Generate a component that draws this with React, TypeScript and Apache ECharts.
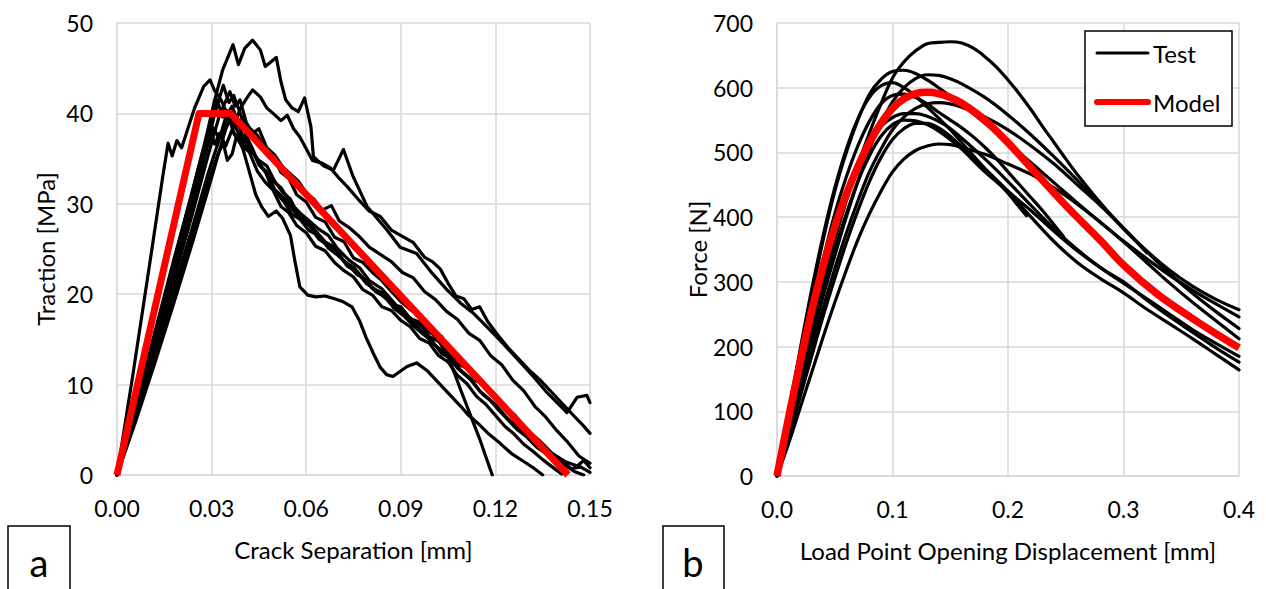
import React, { useEffect, useRef } from "react";
import * as echarts from "echarts";

// ---------- Panel a: traction vs crack separation ----------
const tractionTicks = [0, 10, 20, 30, 40, 50];
const separationTicks = [0, 0.03, 0.06, 0.09, 0.12, 0.15];

const testA = [[0,0],[0.006,7.5],[0.012,15.5],[0.018,23.5],[0.024,31.5],[0.028,37],[0.031,41.5],[0.0335,44.8],[0.0355,46.5],[0.0368,47.6],[0.0385,45.4],[0.0405,47.2],[0.043,48.1],[0.0455,47],[0.047,45.2],[0.0485,45.6],[0.0505,46.2],[0.052,43.5],[0.0535,41.5],[0.0555,40.6],[0.0575,40.2],[0.0595,41.7],[0.0615,38.5],[0.0623,35.2],[0.0655,34.2],[0.0686,33.7],[0.0718,36],[0.0749,33],[0.0793,29.7],[0.0856,27.1],[0.0898,25.2],[0.095,24.5],[0.1,22.3],[0.1046,20.5],[0.109,19],[0.113,17.9],[0.117,16.5],[0.1215,14.9],[0.127,12.8],[0.132,10.9],[0.1364,9.1],[0.1427,6.9],[0.1459,8.6],[0.149,8.8],[0.15,8.0]];
const testB = [[0,0],[0.005,11],[0.01,22.5],[0.0145,33],[0.0162,36.7],[0.0175,35.3],[0.019,37],[0.0205,36.2],[0.022,37.8],[0.0245,40.5],[0.0275,43],[0.0295,43.7],[0.031,42.5],[0.033,41.5],[0.0355,39.5],[0.038,38.2],[0.0405,36.5],[0.043,35.8],[0.046,34],[0.049,32.6],[0.052,31.8],[0.055,30.1],[0.058,29],[0.061,28.1],[0.064,27.2],[0.067,26.5],[0.07,25],[0.0735,23.8],[0.077,22.9],[0.08,21.5],[0.084,20.6],[0.088,19],[0.092,17.3],[0.096,16.2],[0.1,14.6],[0.104,13.5],[0.108,11.8],[0.112,10.6],[0.116,8.9],[0.12,7.8],[0.124,6.2],[0.128,5],[0.132,3.6],[0.136,2.5],[0.14,1.2],[0.143,0.3]];
const testC = [[0,0],[0.006,7],[0.012,14.5],[0.018,22],[0.024,30],[0.028,35.5],[0.031,40],[0.0337,43.1],[0.0355,41.2],[0.037,42],[0.0395,39.6],[0.042,38.4],[0.0445,37.6],[0.047,36],[0.0495,35.2],[0.052,33.5],[0.0545,32.8],[0.057,31],[0.06,30.2],[0.063,28.5],[0.066,28],[0.069,26.3],[0.072,25.8],[0.075,24],[0.078,23.5],[0.081,22.4],[0.084,21.5],[0.087,20.3],[0.09,19.2],[0.093,18.3],[0.096,17.5],[0.0995,16],[0.103,15.3],[0.106,13.6],[0.11,12.4],[0.114,10.5],[0.118,9.4],[0.122,7.8],[0.126,6.7],[0.13,5],[0.134,3.8],[0.138,2.4],[0.142,1.5],[0.146,1],[0.148,1.6],[0.15,0.8]];
const testD = [[0,0],[0.006,6.8],[0.012,14],[0.018,21.5],[0.024,29],[0.029,35.5],[0.0325,39.8],[0.0358,42.4],[0.0375,40.8],[0.039,41.5],[0.041,39],[0.043,37.8],[0.045,38.3],[0.0475,36.2],[0.05,35.4],[0.0525,34.1],[0.055,33.3],[0.0575,32.5],[0.06,31.2],[0.0625,30.5],[0.065,29.3],[0.068,29.8],[0.0705,28.1],[0.0735,27.4],[0.0765,26.5],[0.08,25.2],[0.0835,24.4],[0.087,23.6],[0.0905,22.4],[0.094,21.8],[0.0975,20.3],[0.101,19.4],[0.1045,18.1],[0.108,17.2],[0.1115,15.7],[0.115,14.9],[0.1185,13.2],[0.122,12.2],[0.1255,10.5],[0.129,9.3],[0.1325,7.6],[0.136,6.4],[0.1395,4.9],[0.143,3.6],[0.1465,2.1],[0.15,1.3]];
const testE = [[0,0],[0.006,6.5],[0.012,13.5],[0.018,20.5],[0.024,27.5],[0.029,33.5],[0.0325,37.2],[0.035,39.5],[0.037,38.4],[0.039,40.5],[0.041,41.6],[0.043,42.6],[0.0455,41.8],[0.0475,40.6],[0.0495,40],[0.052,39.2],[0.054,39.8],[0.056,38.3],[0.058,37.4],[0.06,36.1],[0.062,34.8],[0.065,34.5],[0.0676,34],[0.0705,32.8],[0.073,31.9],[0.0765,30.5],[0.08,29.2],[0.0835,28.6],[0.087,27.1],[0.0905,26.4],[0.094,25.7],[0.0975,24.1],[0.1,23.6],[0.1025,22.8],[0.105,21.2],[0.1075,19.8],[0.11,19.5],[0.1125,18.3],[0.115,18.6],[0.1175,17],[0.1205,15.6],[0.124,14.1],[0.1275,12.8],[0.131,11.5],[0.1345,10.4],[0.138,9.1],[0.1415,7.8],[0.145,6.5],[0.1475,5.6],[0.15,4.6]];
const testF = [[0,0],[0.006,7.8],[0.012,15.8],[0.018,23.8],[0.024,31.5],[0.028,36.8],[0.0317,41.5],[0.0335,39.6],[0.035,40.3],[0.037,37.8],[0.0395,36.5],[0.042,35.7],[0.0445,33.6],[0.047,32.4],[0.0495,31.5],[0.052,29.7],[0.0545,29],[0.057,27.6],[0.06,26.8],[0.063,25.3],[0.066,24.8],[0.069,23.5],[0.072,22.6],[0.075,21.9],[0.078,20.5],[0.081,19.9],[0.084,18.6],[0.087,18.2],[0.09,17.1],[0.093,16.4],[0.096,15.1],[0.099,14.6],[0.102,13.2],[0.105,12.5],[0.108,11],[0.111,10.1],[0.114,8.7],[0.117,7.8],[0.12,6.6],[0.123,5.4],[0.126,4.5],[0.129,3.4],[0.132,2.6],[0.135,1.7],[0.138,0.9],[0.141,0.1]];
const testG = [[0,0],[0.006,7.2],[0.012,14.6],[0.018,22.3],[0.024,30.1],[0.0273,34.5],[0.0295,38],[0.031,36.6],[0.0325,37.8],[0.0345,36.4],[0.0365,38.2],[0.0385,37.1],[0.0405,37.6],[0.0425,35.9],[0.045,34.8],[0.0475,34.2],[0.05,32.5],[0.0525,31.3],[0.055,30.5],[0.0575,28.7],[0.06,28.2],[0.063,27],[0.066,25.8],[0.069,25.2],[0.072,23.6],[0.075,23],[0.078,21.8],[0.081,20.6],[0.084,20.2],[0.087,18.9],[0.09,18.6],[0.093,17.3],[0.096,16.9],[0.099,15.3],[0.102,14.8],[0.105,13.6],[0.108,12.3],[0.111,11.8],[0.114,10.4],[0.117,9.8],[0.12,8.3],[0.123,7.7],[0.126,6.1],[0.129,5.4],[0.132,4.1],[0.135,3.4],[0.138,2.2],[0.141,1.6],[0.144,0.7],[0.147,0.9],[0.15,0.3]];
const testH = [[0,0],[0.006,6.3],[0.012,13],[0.018,19.8],[0.024,26.8],[0.029,32.5],[0.032,35.5],[0.0337,36.7],[0.035,34.8],[0.0365,35.5],[0.038,37.6],[0.04,36],[0.042,33.5],[0.044,31],[0.046,29.6],[0.048,28.6],[0.0505,29.2],[0.0525,28.4],[0.055,26.5],[0.0565,23.5],[0.058,20.8],[0.0605,19.9],[0.063,19.7],[0.066,19.8],[0.069,19.5],[0.0715,19.2],[0.0745,18.6],[0.077,17],[0.079,15.2],[0.0815,13.3],[0.0835,11.9],[0.0855,11.1],[0.0875,10.9],[0.0895,11.4],[0.092,12],[0.095,12.4],[0.0985,11.5],[0.102,10.2],[0.1055,8.9],[0.109,7.6],[0.1115,6.6],[0.1145,5.7],[0.118,4.5],[0.1215,3.5],[0.125,2.4],[0.1285,1.6],[0.132,0.8],[0.135,0]];
const testI = [[0,0],[0.006,7.5],[0.012,15.2],[0.018,23],[0.024,30.8],[0.028,35.6],[0.0305,38.4],[0.0325,37.2],[0.0345,39.6],[0.0365,40.8],[0.038,39.4],[0.04,37.3],[0.0425,36.2],[0.045,34.4],[0.0475,33.5],[0.05,31.6],[0.0525,30.8],[0.055,29.7],[0.058,28.3],[0.061,27.6],[0.064,26.1],[0.067,25.4],[0.07,24.6],[0.073,23.1],[0.076,22.5],[0.079,21.2],[0.082,20.5],[0.085,19.6],[0.088,18.7],[0.091,17.9],[0.094,17.1],[0.097,16.4],[0.1,15.6],[0.1025,14.6],[0.105,13],[0.107,11.3],[0.109,9.4],[0.111,7.6],[0.113,5.8],[0.115,4],[0.117,2],[0.119,0]];
const testJ = [[0,0],[0.006,6],[0.012,12.4],[0.018,19],[0.024,25.8],[0.029,31.7],[0.032,35.3],[0.0345,38.3],[0.0365,39.8],[0.038,38.6],[0.0395,39.4],[0.041,37.5],[0.043,36.1],[0.045,34.3],[0.047,33.6],[0.049,31.8],[0.051,31],[0.053,30.2],[0.0555,28.8],[0.058,28.3],[0.061,27],[0.064,26.5],[0.067,25.1],[0.07,24.3],[0.073,23.4],[0.076,22.2],[0.079,21.6],[0.082,20.3],[0.085,19.7],[0.088,18.4],[0.091,17.6],[0.094,16.5],[0.097,15.6],[0.1,14.8],[0.103,13.4],[0.106,12.9],[0.109,11.6],[0.112,10.7],[0.115,9.3],[0.118,8.4],[0.121,7.2],[0.124,6.1],[0.127,5],[0.13,4.2],[0.133,3.1],[0.136,2.4],[0.139,1.6],[0.142,1.1],[0.145,0.4],[0.148,0]];
const modelTraction = [[0,0],[0.026,40],[0.036,40],[0.143,0]];

// ---------- Panel b: force vs load point opening displacement ----------
const forceTicks = [0, 100, 200, 300, 400, 500, 600, 700];
const displacementTicks = [0, 0.1, 0.2, 0.3, 0.4];

const test1 = [[0,0],[0.01,75],[0.02,150],[0.03,225],[0.04,300],[0.05,365],[0.06,425],[0.07,480],[0.08,530],[0.09,575],[0.1,615],[0.11,640],[0.12,657],[0.13,668],[0.14,670],[0.15,671],[0.16,669],[0.17,661],[0.18,648],[0.19,632],[0.2,612],[0.21,590],[0.22,566],[0.23,540],[0.24,515],[0.25,490],[0.26,466],[0.28,422],[0.3,382],[0.32,348],[0.34,318],[0.36,293],[0.38,273],[0.4,257]];
const test2 = [[0,0],[0.01,95],[0.02,190],[0.03,280],[0.04,365],[0.05,440],[0.06,500],[0.07,550],[0.08,590],[0.09,613],[0.1,625],[0.11,627],[0.12,622],[0.13,612],[0.14,600],[0.15,587],[0.16,574],[0.18,545],[0.2,515],[0.22,484],[0.24,453],[0.26,422],[0.28,392],[0.3,363],[0.32,336],[0.34,310],[0.36,287],[0.38,266],[0.4,246]];
const test3 = [[0,0],[0.01,70],[0.02,140],[0.03,210],[0.04,278],[0.05,340],[0.06,400],[0.07,455],[0.08,505],[0.09,545],[0.1,578],[0.11,600],[0.12,614],[0.13,620],[0.14,619],[0.15,614],[0.16,606],[0.18,585],[0.2,558],[0.22,527],[0.24,493],[0.26,457],[0.28,420],[0.3,383],[0.32,347],[0.34,313],[0.36,282],[0.38,254],[0.4,228]];
const test4 = [[0,0],[0.01,98],[0.02,195],[0.03,288],[0.04,372],[0.05,445],[0.06,505],[0.07,552],[0.08,585],[0.09,603],[0.1,608],[0.11,600],[0.12,587],[0.13,570],[0.14,553],[0.15,535],[0.16,515],[0.17,495],[0.18,475],[0.19,456],[0.2,437],[0.21,415],[0.216,402]];
const test5 = [[0,0],[0.01,85],[0.02,170],[0.03,255],[0.04,335],[0.05,405],[0.06,462],[0.07,510],[0.08,548],[0.09,575],[0.1,588],[0.11,590],[0.12,585],[0.13,575],[0.14,562],[0.15,550],[0.16,538],[0.17,524],[0.18,508],[0.19,490],[0.2,470],[0.21,450],[0.22,430],[0.23,410],[0.24,388],[0.248,370]];
const test6 = [[0,0],[0.01,65],[0.02,130],[0.03,195],[0.04,260],[0.05,320],[0.06,375],[0.07,425],[0.08,470],[0.09,505],[0.1,535],[0.11,555],[0.12,568],[0.13,575],[0.14,577],[0.15,575],[0.16,570],[0.18,555],[0.2,535],[0.22,510],[0.24,482],[0.26,450],[0.28,418],[0.3,383],[0.32,345]];
const test7 = [[0,0],[0.01,80],[0.02,160],[0.03,238],[0.04,310],[0.05,375],[0.06,430],[0.07,478],[0.08,515],[0.09,540],[0.1,554],[0.11,560],[0.12,560],[0.13,556],[0.14,548],[0.15,537],[0.16,522],[0.18,490],[0.2,455],[0.22,418],[0.24,382],[0.26,350],[0.28,322],[0.3,298],[0.32,274],[0.34,250],[0.36,226],[0.38,205],[0.4,185]];
const test8 = [[0,0],[0.01,72],[0.02,145],[0.03,218],[0.04,288],[0.05,350],[0.06,405],[0.07,455],[0.08,495],[0.09,525],[0.1,543],[0.11,550],[0.12,549],[0.13,543],[0.14,533],[0.15,520],[0.16,505],[0.18,470],[0.2,440],[0.22,410],[0.24,378],[0.26,348],[0.28,322],[0.3,300],[0.32,272],[0.34,246],[0.36,222],[0.38,198],[0.4,176]];
const test9 = [[0,0],[0.01,60],[0.02,122],[0.03,185],[0.04,247],[0.05,305],[0.06,360],[0.07,410],[0.08,455],[0.09,492],[0.1,520],[0.11,537],[0.12,545],[0.13,545],[0.14,538],[0.15,525],[0.16,508],[0.18,475],[0.2,440],[0.22,400],[0.24,362],[0.26,330],[0.28,305],[0.3,283],[0.32,258],[0.34,235],[0.36,212],[0.38,188],[0.4,164]];
const test10 = [[0,0],[0.01,50],[0.02,105],[0.03,160],[0.04,215],[0.05,268],[0.06,318],[0.07,365],[0.08,405],[0.09,440],[0.1,470],[0.11,490],[0.12,503],[0.13,510],[0.14,513],[0.15,512],[0.16,508],[0.18,497],[0.2,482],[0.22,466],[0.24,445],[0.26,420],[0.28,392],[0.3,362],[0.32,330],[0.34,298],[0.36,268],[0.38,240],[0.4,212]];
const modelForce = [[0,0],[0.01,90],[0.02,175],[0.03,255],[0.04,325],[0.05,385],[0.06,435],[0.07,478],[0.08,515],[0.09,545],[0.1,568],[0.11,583],[0.12,591],[0.13,593],[0.14,591],[0.15,585],[0.16,576],[0.18,550],[0.2,515],[0.22,476],[0.25,418],[0.28,364],[0.3,326],[0.33,280],[0.36,243],[0.38,220],[0.4,198]];

const leftTests = [testA, testB, testC, testD, testE, testF, testG, testH, testI, testJ];
const rightTests = [test1, test2, test3, test4, test5, test6, test7, test8, test9, test10];
const legendNames = ["Test", "Model"];

const FONT = "Lato, 'Open Sans', sans-serif";
const GRID_COLOR = "#d9d9d9";
const TEST_COLOR = "#000000";
const MODEL_COLOR = "#ff0000";

function valueAxis(gridIndex: number, ticks: number[], digits: number | null, name: string, nameGap: number, isX: boolean) {
  const step = ticks[1] - ticks[0];
  return {
    type: "value",
    gridIndex,
    min: ticks[0],
    max: ticks[ticks.length - 1],
    interval: step,
    name,
    nameLocation: "middle",
    nameGap,
    nameTextStyle: { color: "#000", fontSize: 24, fontFamily: FONT },
    axisLine: { show: true, lineStyle: { color: GRID_COLOR, width: 1.5 } },
    axisTick: { show: false },
    splitLine: { show: true, lineStyle: { color: GRID_COLOR, width: 1.5 } },
    axisLabel: {
      color: "#000",
      fontSize: 23,
      fontFamily: FONT,
      margin: isX ? 21 : 24,
      formatter: (v: number) => (digits === null ? String(Math.round(v)) : v.toFixed(digits)),
    },
  };
}

export default function App() {
  const ref = useRef<HTMLDivElement>(null);
  useEffect(() => {
    if (!ref.current) return;
    const chart = echarts.init(ref.current, null, { renderer: "svg" });
    const series: any[] = [];
    leftTests.forEach((d) =>
      series.push({
        type: "line", name: legendNames[0], xAxisIndex: 0, yAxisIndex: 0, data: d,
        symbol: "none", showSymbol: false, silent: true, z: 2,
        lineStyle: { color: TEST_COLOR, width: 3.2, join: "round", cap: "round" },
      })
    );
    series.push({
      type: "line", name: legendNames[1], xAxisIndex: 0, yAxisIndex: 0, data: modelTraction,
      symbol: "none", showSymbol: false, silent: true, z: 3,
      lineStyle: { color: MODEL_COLOR, width: 7, join: "round" },
    });
    rightTests.forEach((d) =>
      series.push({
        type: "line", name: legendNames[0], xAxisIndex: 1, yAxisIndex: 1, data: d,
        symbol: "none", showSymbol: false, silent: true, z: 2, smooth: 0.35,
        lineStyle: { color: TEST_COLOR, width: 3.2, join: "round", cap: "round" },
      })
    );
    series.push({
      type: "line", name: legendNames[1], xAxisIndex: 1, yAxisIndex: 1, data: modelForce,
      symbol: "none", showSymbol: false, silent: true, z: 3, smooth: 0.35,
      lineStyle: { color: MODEL_COLOR, width: 7.5, join: "round" },
    });

    chart.setOption({
      animation: false,
      backgroundColor: "#fff",
      textStyle: { fontFamily: FONT },
      grid: [
        { left: 117, top: 23, width: 473, height: 452 },
        { left: 777, top: 23, width: 462, height: 453 },
      ],
      xAxis: [
        valueAxis(0, separationTicks, 2, "Crack Separation [mm]", 62, true),
        valueAxis(1, displacementTicks, 1, "Load Point Opening Displacement [mm]", 62, true),
      ],
      yAxis: [
        valueAxis(0, tractionTicks, null, "Traction [MPa]", 60, false),
        valueAxis(1, forceTicks, null, "Force [N]", 65, false),
      ],
      graphic: [
        // legend of panel b
        { type: "rect", z: 50, shape: { x: 1085, y: 31, width: 147, height: 95 }, style: { fill: "#fff", stroke: "#000", lineWidth: 1.5 } },
        { type: "line", z: 51, shape: { x1: 1097, y1: 53, x2: 1148, y2: 53 }, style: { stroke: TEST_COLOR, lineWidth: 3, lineCap: "round" } },
        { type: "text", z: 51, x: 1153, y: 53, style: { text: legendNames[0], fontSize: 24, fontFamily: FONT, fill: "#000", align: "left", verticalAlign: "middle" } },
        { type: "line", z: 51, shape: { x1: 1097, y1: 102, x2: 1148, y2: 102 }, style: { stroke: MODEL_COLOR, lineWidth: 6, lineCap: "round" } },
        { type: "text", z: 51, x: 1153, y: 102, style: { text: legendNames[1], fontSize: 24, fontFamily: FONT, fill: "#000", align: "left", verticalAlign: "middle" } },
        // panel letters
        { type: "rect", shape: { x: 8, y: 526, width: 62, height: 70 }, style: { fill: "#fff", stroke: "#000", lineWidth: 1.5 } },
        { type: "text", x: 39, y: 562, style: { text: "a", fontSize: 38, fontFamily: FONT, fill: "#000", align: "center", verticalAlign: "middle" } },
        { type: "rect", shape: { x: 663, y: 526, width: 61, height: 70 }, style: { fill: "#fff", stroke: "#000", lineWidth: 1.5 } },
        { type: "text", x: 693, y: 562, style: { text: "b", fontSize: 38, fontFamily: FONT, fill: "#000", align: "center", verticalAlign: "middle" } },
      ],
      series,
    });
    return () => chart.dispose();
  }, []);
  return <div ref={ref} style={{ position: "fixed", left: 0, top: 0, width: 1266, height: 589 }} />;
}
